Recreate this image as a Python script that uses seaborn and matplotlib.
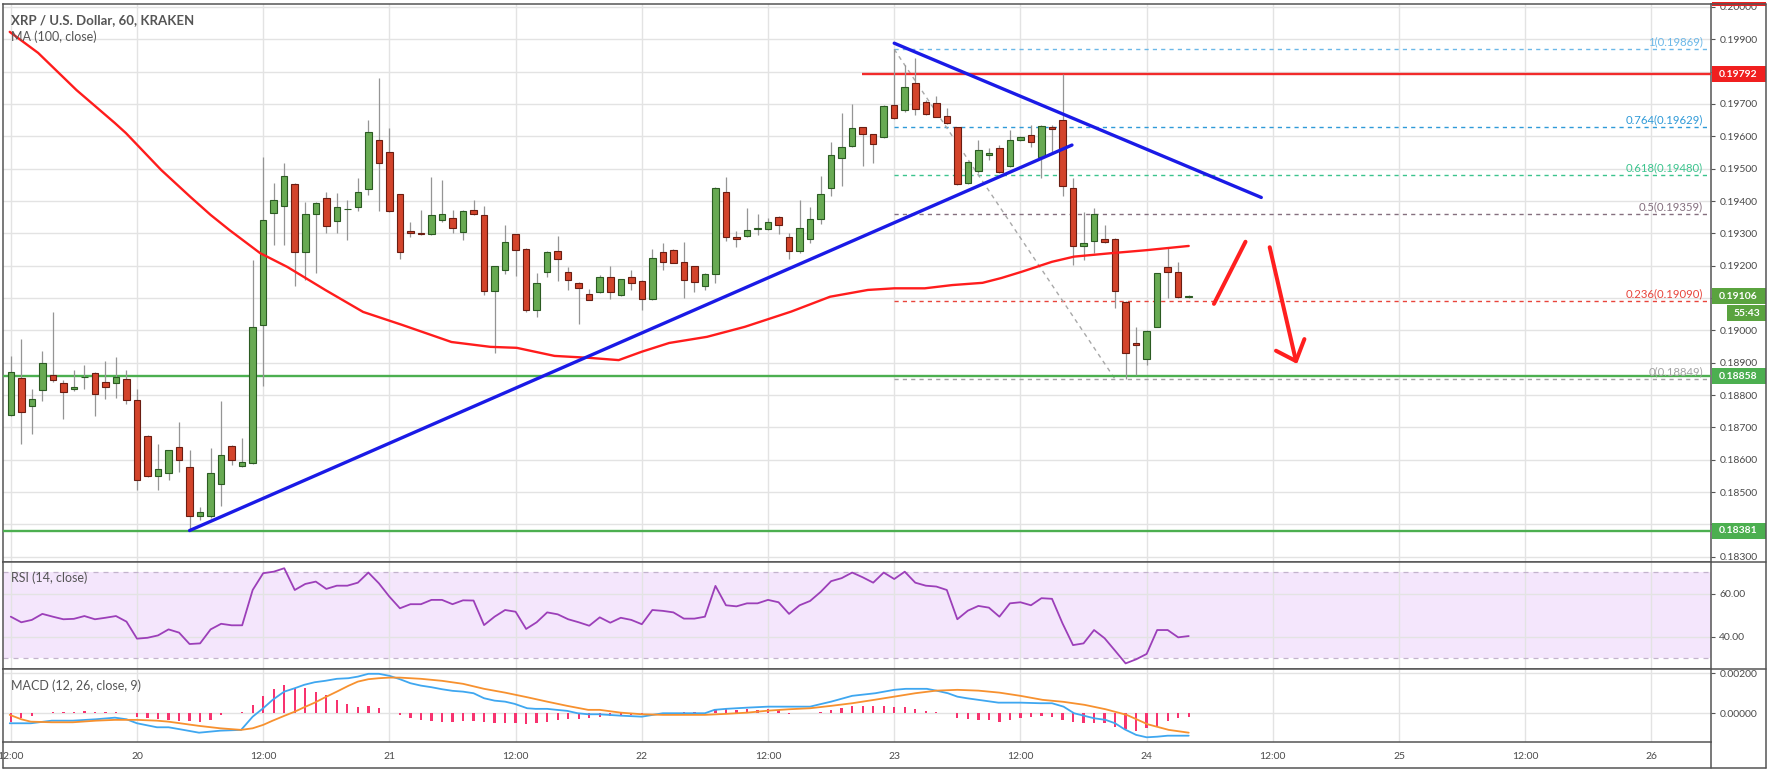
import numpy as np
import pandas as pd
import matplotlib
matplotlib.use("Agg")
import matplotlib.pyplot as plt
from matplotlib.patches import Rectangle
from matplotlib.lines import Line2D
import seaborn as sns

# ---------------- data (hours since 20th 00:00) ----------------
hours = list(range(-12, 101))
opens = [
    0.18737, 0.18853, 0.18766, 0.18817, 0.18863, 0.18837, 0.18820, 0.18855, 0.18867, 0.18840, 0.18837, 0.18850,
    0.18785, 0.18674, 0.18549, 0.18560, 0.18639, 0.18579, 0.18426, 0.18425, 0.18526, 0.18642, 0.18580, 0.18590,
    0.19018, 0.19362, 0.19385, 0.19453, 0.19243, 0.19360, 0.19409, 0.19337, 0.19374, 0.19381, 0.19437, 0.19589,
    0.19553, 0.19421, 0.19307, 0.19302, 0.19299, 0.19340, 0.19348, 0.19304, 0.19373, 0.19356, 0.19122, 0.19188,
    0.19297, 0.19253, 0.19064, 0.19179, 0.19246, 0.19179, 0.19147, 0.19112, 0.19119, 0.19165, 0.19108, 0.19165,
    0.19153, 0.19098, 0.19243, 0.19250, 0.19210, 0.19198, 0.19138, 0.19173, 0.19428, 0.19290, 0.19291, 0.19313,
    0.19312, 0.19351, 0.19290, 0.19246, 0.19282, 0.19343, 0.19440, 0.19532, 0.19570, 0.19628, 0.19606, 0.19597,
    0.19697, 0.19682, 0.19764, 0.19707, 0.19702, 0.19663, 0.19628, 0.19457, 0.19494, 0.19541, 0.19565, 0.19509,
    0.19589, 0.19604, 0.19537, 0.19630, 0.19651, 0.19439, 0.19261, 0.19276, 0.19282, 0.19282, 0.19089, 0.18962,
    0.18911, 0.19011, 0.19195, 0.19179, 0.19102]
highs = [
    0.18922, 0.18973, 0.18819, 0.18937, 0.19056, 0.18845, 0.18876, 0.18894, 0.18870, 0.18905, 0.18917, 0.18878,
    0.18819, 0.18676, 0.18649, 0.18630, 0.18716, 0.18631, 0.18455, 0.18637, 0.18781, 0.18647, 0.18667, 0.19218,
    0.19537, 0.19455, 0.19519, 0.19455, 0.19398, 0.19398, 0.19429, 0.19426, 0.19404, 0.19471, 0.19651, 0.19779,
    0.19625, 0.19423, 0.19335, 0.19373, 0.19474, 0.19466, 0.19373, 0.19373, 0.19402, 0.19384, 0.19199, 0.19325,
    0.19299, 0.19255, 0.19178, 0.19245, 0.19291, 0.19196, 0.19150, 0.19129, 0.19171, 0.19198, 0.19160, 0.19186,
    0.19155, 0.19253, 0.19270, 0.19252, 0.19274, 0.19200, 0.19176, 0.19443, 0.19474, 0.19308, 0.19377, 0.19361,
    0.19346, 0.19353, 0.19300, 0.19403, 0.19380, 0.19476, 0.19584, 0.19671, 0.19700, 0.19630, 0.19608, 0.19696,
    0.19869, 0.19821, 0.19841, 0.19712, 0.19725, 0.19687, 0.19630, 0.19525, 0.19589, 0.19563, 0.19573, 0.19620,
    0.19601, 0.19635, 0.19635, 0.19635, 0.19792, 0.19470, 0.19367, 0.19377, 0.19326, 0.19285, 0.19092, 0.19011,
    0.19001, 0.19178, 0.19254, 0.19212, 0.19108]
lows = [
    0.18735, 0.18649, 0.18680, 0.18783, 0.18840, 0.18727, 0.18814, 0.18819, 0.18734, 0.18788, 0.18791, 0.18773,
    0.18505, 0.18547, 0.18507, 0.18536, 0.18562, 0.18381, 0.18414, 0.18420, 0.18456, 0.18585, 0.18578, 0.18588,
    0.18827, 0.19265, 0.19265, 0.19138, 0.19156, 0.19177, 0.19301, 0.19301, 0.19280, 0.19368, 0.19419, 0.19368,
    0.19365, 0.19222, 0.19289, 0.19294, 0.19294, 0.19335, 0.19301, 0.19279, 0.19356, 0.19109, 0.18930, 0.19174,
    0.19167, 0.19057, 0.19040, 0.19165, 0.19153, 0.19126, 0.19021, 0.19093, 0.19114, 0.19098, 0.19106, 0.19124,
    0.19062, 0.19093, 0.19188, 0.19207, 0.19101, 0.19119, 0.19124, 0.19147, 0.19277, 0.19258, 0.19289, 0.19294,
    0.19310, 0.19299, 0.19220, 0.19238, 0.19270, 0.19330, 0.19414, 0.19445, 0.19568, 0.19509, 0.19517, 0.19594,
    0.19654, 0.19676, 0.19666, 0.19666, 0.19659, 0.19638, 0.19450, 0.19453, 0.19486, 0.19527, 0.19486, 0.19506,
    0.19587, 0.19568, 0.19470, 0.19553, 0.19416, 0.19202, 0.19218, 0.19240, 0.19269, 0.19068, 0.18849, 0.18862,
    0.18893, 0.19009, 0.19099, 0.19100, 0.19100]
closes = [
    0.18871, 0.18749, 0.18788, 0.18898, 0.18847, 0.18809, 0.18825, 0.18856, 0.18802, 0.18826, 0.18855, 0.18785,
    0.18538, 0.18549, 0.18572, 0.18629, 0.18600, 0.18425, 0.18439, 0.18559, 0.18616, 0.18598, 0.18593, 0.19010,
    0.19340, 0.19402, 0.19478, 0.19241, 0.19359, 0.19395, 0.19323, 0.19381, 0.19376, 0.19429, 0.19612, 0.19517,
    0.19370, 0.19243, 0.19302, 0.19299, 0.19356, 0.19361, 0.19318, 0.19368, 0.19359, 0.19122, 0.19199, 0.19274,
    0.19248, 0.19062, 0.19145, 0.19243, 0.19222, 0.19155, 0.19132, 0.19095, 0.19165, 0.19119, 0.19158, 0.19145,
    0.19098, 0.19225, 0.19212, 0.19209, 0.19155, 0.19149, 0.19173, 0.19441, 0.19289, 0.19283, 0.19310, 0.19316,
    0.19335, 0.19325, 0.19246, 0.19316, 0.19343, 0.19421, 0.19541, 0.19568, 0.19625, 0.19606, 0.19577, 0.19694,
    0.19656, 0.19752, 0.19684, 0.19669, 0.19661, 0.19640, 0.19453, 0.19522, 0.19558, 0.19549, 0.19489, 0.19589,
    0.19597, 0.19581, 0.19633, 0.19624, 0.19447, 0.19261, 0.19271, 0.19360, 0.19272, 0.19123, 0.18931, 0.18954,
    0.18999, 0.19176, 0.19179, 0.19102, 0.19106]

ma_hours = [-12.1, -9.4, -5.75, -2.1, -1.05, 2.3, 5.1, 7.0, 8.8, 11.7, 14.3, 17.9, 21.5, 25.2, 29.9, 33.6,
            36.1, 39.7, 43.0, 45.8, 48.0, 50.6, 54.2, 57.8, 62.2, 65.9, 69.5, 72.0, 74.9, 77.5, 80.4, 82.2,
            84.1, 87.0, 89.1, 92.4, 96.0, 100.0]
ma_values = [0.19923, 0.19858, 0.19743, 0.19641, 0.19610, 0.19496, 0.19412, 0.19357, 0.19310, 0.19239,
             0.19196, 0.19125, 0.19057, 0.19017, 0.18964, 0.18949, 0.18946, 0.18921, 0.18915, 0.18908,
             0.18934, 0.18961, 0.18980, 0.19011, 0.19058, 0.19104, 0.19125, 0.19130, 0.19130, 0.19140,
             0.19147, 0.19162, 0.19181, 0.19212, 0.19228, 0.19238, 0.19248, 0.19261]

rsi_values = [
    49.3, 46.7, 47.8, 50.6, 49.3, 48.1, 48.3, 49.6, 48.1, 48.8, 49.6, 47.0,
    39.1, 39.5, 40.6, 43.4, 41.9, 36.6, 36.9, 43.4, 46.0, 45.3, 45.3, 61.7,
    69.5, 70.2, 71.8, 61.7, 64.5, 65.6, 62.2, 63.7, 63.7, 65.1, 69.8, 64.8,
    58.6, 53.2, 55.1, 55.1, 57.1, 57.1, 55.1, 56.9, 56.8, 45.4, 49.3, 52.4,
    51.6, 43.6, 46.7, 51.3, 50.4, 48.1, 46.7, 45.1, 49.0, 46.5, 48.8, 47.8,
    45.8, 52.4, 52.0, 51.3, 48.4, 48.4, 49.3, 63.6, 54.6, 54.1, 55.5, 55.5,
    57.1, 56.0, 50.6, 54.6, 56.6, 60.8, 65.8, 67.2, 69.8, 67.6, 65.1, 69.8,
    66.8, 70.2, 65.1, 63.7, 63.3, 61.7, 48.1, 52.1, 54.3, 53.5, 49.3, 55.5,
    56.0, 54.6, 57.9, 57.6, 46.2, 36.1, 36.9, 43.1, 39.3, 33.5, 27.6, 29.5,
    32.0, 43.1, 43.1, 39.7, 40.3]

macd_hours = [-12.1, -10.1, -8.1, -6.1, -3.9, -2.1, -1.0, 0.0, 1.9, 3.0, 4.1, 5.9, 7.9, 9.9, 11.0, 12.0,
              12.9, 14.0, 15.0, 15.9, 16.9, 17.9, 19.0, 20.1, 21.0, 22.0, 23.0, 24.0, 25.0, 26.0, 27.0,
              28.0, 29.0, 30.0, 31.0, 32.0, 33.0, 34.0, 35.0, 35.9, 37.1, 37.9, 39.0, 39.9, 40.9, 41.9,
              42.9, 43.9, 46.0, 48.0, 50.0, 52.0, 54.0, 54.9, 56.0, 58.0, 60.0, 62.0, 64.0, 65.1, 66.0,
              68.0, 70.2, 72.0, 73.1, 75.1, 76.0, 77.1, 78.0, 78.9, 80.0, 81.9, 84.0, 85.9, 87.0, 88.1,
              89.1, 90.1, 91.0, 92.1, 93.0, 93.9, 95.0, 96.0, 97.0, 98.0, 99.0, 100.0]
macd_values = [-0.0005, -0.0005, -0.00037, -0.00037, -0.0003, -0.00022, -0.0003, -0.0005, -0.0007, -0.0007,
               -0.0008, -0.00097, -0.00087, -0.00083, -0.00017, 0.00025, 0.00067, 0.00108, 0.00125, 0.00142,
               0.00155, 0.00162, 0.00172, 0.00175, 0.00183, 0.00197, 0.00197, 0.00187, 0.0017, 0.0015,
               0.00138, 0.0013, 0.0012, 0.00112, 0.00108, 0.001, 0.00075, 0.00063, 0.00058, 0.00047,
               0.00025, 0.00022, 0.00022, 0.00017, 0.00012, 0.0, -0.00005, -0.00005, -0.00012, -0.00017,
               0.0, 0.0, 0.0, 0.00017, 0.00022, 0.00028, 0.00033, 0.00033, 0.00033, 0.00047,
               0.00058, 0.00087, 0.001, 0.00117, 0.00122, 0.00122, 0.00113, 0.001, 0.00083, 0.00075,
               0.00067, 0.00053, 0.00053, 0.0005, 0.0005, 0.00033, 0.0, -0.00013, -0.00025, -0.00033,
               -0.0005, -0.0008, -0.00108, -0.0012, -0.00117, -0.00112, -0.00112, -0.00112]
signal_hours = [-12.1, -11.0, -10.1, -8.1, -6.1, -3.9, -2.1, 0.0, 1.9, 3.0, 4.1, 5.9, 7.9, 9.9, 11.0, 12.0,
                12.9, 14.0, 15.0, 15.9, 16.9, 17.9, 19.0, 20.1, 21.0, 22.0, 23.0, 24.0, 25.0, 27.0, 29.0,
                31.0, 33.0, 35.0, 37.1, 39.0, 40.9, 42.9, 44.0, 46.0, 48.0, 50.0, 52.0, 54.0, 56.0, 58.0,
                60.0, 62.0, 64.0, 66.0, 68.0, 70.1, 72.0, 74.0, 76.0, 78.0, 80.0, 82.0, 84.0, 86.1, 88.1,
                90.1, 92.1, 94.1, 96.1, 98.1, 100.0]
signal_values = [-0.00008, -0.0003, -0.00042, -0.00045, -0.00045, -0.00037, -0.00033, -0.00033, -0.00037,
                 -0.00042, -0.0005, -0.00063, -0.00075, -0.00083, -0.00075, -0.00058, -0.00037, -0.00013,
                 0.00008, 0.0003, 0.00053, 0.0008, 0.00108, 0.00137, 0.00158, 0.0017, 0.00175, 0.00178,
                 0.00178, 0.00172, 0.00162, 0.00147, 0.00122, 0.00103, 0.0008, 0.00058, 0.00037, 0.00017,
                 0.00017, 0.00003, -0.00005, -0.00008, -0.00008, -0.00008, -0.00003, 0.00003, 0.00013,
                 0.0002, 0.00025, 0.00037, 0.0005, 0.00067, 0.00083, 0.001, 0.00113, 0.00117, 0.00113,
                 0.00103, 0.00087, 0.00067, 0.00057, 0.00042, 0.0002, -0.00008, -0.00055, -0.00083, -0.00097]
hist_values = [
    -0.00042, -0.00025, -0.00013, 0.00003, 0.00008, 0.00008, 0.00005, 0.00013, 0.00005, 0.00005, 0.00005, 0.0,
    -0.00017, -0.00025, -0.0003, -0.00033, -0.00037, -0.00037, -0.00042, -0.00033, -0.00008, 0.00002, 0.00008, 0.00042,
    0.00087, 0.0012, 0.00142, 0.00125, 0.00125, 0.00108, 0.00092, 0.00067, 0.00047, 0.00033, 0.00038, 0.00028,
    0.00003, -0.00008, -0.00022, -0.00033, -0.00037, -0.00042, -0.00042, -0.00037, -0.00037, -0.00042, -0.00047, -0.00047,
    -0.0005, -0.00053, -0.0005, -0.00042, -0.00033, -0.0003, -0.0003, -0.00025, -0.00017, -0.00013, -0.00008, -0.00008,
    -0.00005, 0.0, 0.00003, 0.00003, 0.00005, 0.00005, 0.0, 0.00017, 0.0002, 0.00017, 0.0002, 0.00017,
    0.0002, 0.00017, -0.00005, 0.0, 0.0, 0.00005, 0.00017, 0.00025, 0.00037, 0.00037, 0.00037, 0.00037,
    0.0003, 0.00033, 0.00022, 0.00013, 0.00005, 0.0, -0.00025, -0.0003, -0.00033, -0.00033, -0.00042, -0.00033,
    -0.00025, -0.0002, -0.00013, -0.00017, -0.00033, -0.00042, -0.0005, -0.0005, -0.0005, -0.00067, -0.0008, -0.00088,
    -0.00075, -0.00067, -0.00037, -0.00025, -0.00017]

fib_ratios = ["1", "0.764", "0.618", "0.5", "0.236", "0"]
fib_levels = [0.19869, 0.19629, 0.19480, 0.19359, 0.19090, 0.18849]
fib_colors = ["#6cb8e8", "#2f9ad8", "#3cc48e", "#85707f", "#e8453c", "#a3a3a3"]
fib_start_hour = 72
fib_swing = ([72, 93], [0.19869, 0.18849])

support_levels = [0.18858, 0.18381]
resistance_level = 0.19792
resistance_start = 68.9
rising_trend = ([5.0, 88.9], [0.18381, 0.19573])
falling_trend = ([72.0, 106.9], [0.19888, 0.19411])
arrow_up = ([102.4, 105.4], [0.19082, 0.19274])
arrow_down = ([107.7, 110.2], [0.19257, 0.18905])
arrow_head = ([108.3, 110.2, 111.0], [0.18937, 0.18905, 0.18973])

last_price = 0.19106
countdown = "55:43"
tick_hours = list(range(-12, 145, 12))
tick_labels = ["12:00", "20", "12:00", "21", "12:00", "22", "12:00", "23",
               "12:00", "24", "12:00", "25", "12:00", "26"]
price_ticks = [round(0.183 + 0.001 * i, 3) for i in range(18)]
hidden_price_ticks = [0.184, 0.191, 0.198]   # covered by the coloured price boxes

# ---------------- style ----------------
sns.set_style("white")
plt.rcParams['font.family'] = ['Lato', 'DejaVu Sans']

W, H = 1770, 775
fig = plt.figure(figsize=(W / 100, H / 100), dpi=100)
fig.patch.set_facecolor('white')


def rect(top, bottom, left=3, right=1711):
    return [left / W, 1 - bottom / H, (right - left) / W, (bottom - top) / H]


ax = fig.add_axes(rect(4, 562))
ax_rsi = fig.add_axes(rect(562, 669), sharex=ax)
ax_macd = fig.add_axes(rect(669, 742), sharex=ax)

XMIN, XMAX = -12.74, 149.66

grid_c = '#e3e3e3'
axis_c = '#555555'
text_c = '#4a4a4a'

for a in (ax, ax_rsi, ax_macd):
    a.set_facecolor('white')
    for s in a.spines.values():
        s.set_color(axis_c)
        s.set_linewidth(1.1)
    a.yaxis.tick_right()
    a.tick_params(axis='y', length=3, width=0.8, color=axis_c, pad=3,
                  labelsize=7.5, labelcolor=text_c)
    a.grid(True, color=grid_c, lw=1.0)
    a.set_axisbelow(True)

ax_macd.set_xticks(tick_hours, tick_labels)
ax_macd.tick_params(axis='x', length=3, width=0.8, color=axis_c, pad=4,
                    labelsize=7.5, labelcolor=text_c)
for a in (ax, ax_rsi):
    a.tick_params(axis='x', length=0, labelbottom=False)

ax.set_yticks(price_ticks, ["" if v in hidden_price_ticks else f"{v:.5f}" for v in price_ticks])
ax_rsi.set_yticks([40, 60], ["40.00", "60.00"])
ax_macd.set_yticks([0.0, 0.002], ["0.00000", "0.00200"])

# ---------------- main panel ----------------
df = pd.DataFrame(dict(hour=hours, open=opens, high=highs, low=lows, close=closes))
df['up'] = df['close'] >= df['open']
body = (df['close'] - df['open']).abs().clip(lower=0.00002)
bottom = df[['open', 'close']].min(axis=1)

ax.vlines(df['hour'], df['low'], df['high'], color='#959595', lw=0.9, zorder=3)
for up, fc, ec in [(True, '#68aa53', '#2b5b22'), (False, '#d3442b', '#6a1d12')]:
    m = df['up'] == up
    ax.bar(df['hour'][m], body[m], bottom=bottom[m], width=0.62, color=fc,
           edgecolor=ec, linewidth=0.8, zorder=4)

# fib retracement
for r, lv, c in zip(fib_ratios, fib_levels, fib_colors):
    ax.hlines(lv, fib_start_hour, XMAX, colors=c, linestyles=(0, (3, 3)), lw=1.0, zorder=2.5)
    ax.annotate(f"{r}({lv:.5f})", xy=(148.9, lv), xytext=(0, 1.2), textcoords='offset points',
                ha='right', va='bottom', fontsize=8.2, color=c, zorder=6)
ax.plot(*fib_swing, color='#a8a8a8', lw=1.0, ls=(0, (3, 3)), zorder=2.6)

# horizontal levels
for lv in support_levels:
    ax.axhline(lv, color='#4caf50', lw=1.7, zorder=2.7)
ax.hlines(resistance_level, resistance_start, XMAX, colors='#f22b2b', lw=1.7, zorder=2.7)

# moving average
sns.lineplot(x=ma_hours, y=ma_values, ax=ax, color='#ff1c1c', lw=1.7, estimator=None, zorder=5)

# trend lines
ax.plot(*rising_trend, color='#1a1ae6', lw=2.4, solid_capstyle='round', zorder=6)
ax.plot(*falling_trend, color='#1a1ae6', lw=2.4, solid_capstyle='round', zorder=6)

# hand-drawn arrows
for seg in (arrow_up, arrow_down, arrow_head):
    ax.plot(*seg, color='#ff1f1f', lw=2.9, solid_capstyle='round', solid_joinstyle='round', zorder=7)

# ---------------- RSI panel ----------------
ax_rsi.axhspan(30, 70, color='#f4e6fc', zorder=0.2, lw=0)
for lv in (30, 70):
    ax_rsi.axhline(lv, color='#c3b3cc', lw=0.9, ls=(0, (4, 4)), zorder=1)
sns.lineplot(x=hours, y=rsi_values, ax=ax_rsi, color='#9c3fb9', lw=1.3, estimator=None, zorder=4)

# ---------------- MACD panel ----------------
ax_macd.bar(hours, hist_values, width=0.22, color='#f7336f', zorder=3, lw=0)
sns.lineplot(x=macd_hours, y=macd_values, ax=ax_macd, color='#3fa7f0', lw=1.3, estimator=None, zorder=4)
sns.lineplot(x=signal_hours, y=signal_values, ax=ax_macd, color='#f7912f', lw=1.3, estimator=None, zorder=5)

for a in (ax, ax_rsi, ax_macd):
    a.set_xlim(XMIN, XMAX)
    a.set_xlabel('')
    a.set_ylabel('')
ax.set_ylim(0.182837, 0.200092)
ax_rsi.set_ylim(25.0, 74.7)
ax_macd.set_ylim(-0.001435, 0.00221)

# ---------------- titles ----------------
fig.text(11 / W, 1 - 20 / H, "XRP / U.S. Dollar, 60, KRAKEN", fontsize=9.5, color='#555555',
         va='center', ha='left', fontweight='bold')
fig.text(11 / W, 1 - 36.5 / H, "MA (100, close)", fontsize=9, color='#555555', va='center', ha='left')
fig.text(11 / W, 1 - 578 / H, "RSI (14, close)", fontsize=9, color='#555555', va='center', ha='left')
fig.text(11 / W, 1 - 686 / H, "MACD (12, 26, close, 9)", fontsize=9, color='#555555', va='center', ha='left')


# ---------------- price-axis boxes ----------------
def y_px(a, val):
    return a.transData.transform((0, val))[1]


def price_box(yc, txt, fc, x0=1712, x1=1766, h=16, tx=1719, ha='left'):
    fig.add_artist(Rectangle((x0 / W, (yc - h / 2) / H), (x1 - x0) / W, h / H,
                             transform=fig.transFigure, facecolor=fc, edgecolor='none', zorder=10))
    fig.text(tx / W, yc / H, txt, ha=ha, va='center', color='white', fontsize=7.5,
             fontweight='bold', zorder=11)


price_box(y_px(ax, resistance_level), f"{resistance_level:.5f}", '#f01f1f')
price_box(y_px(ax, last_price), f"{last_price:.5f}", '#5aa33f')
price_box(y_px(ax, last_price) - 17, countdown, '#5aa33f', x0=1727, tx=1746.5, ha='center')
for lv in support_levels:
    price_box(y_px(ax, lv), f"{lv:.5f}", '#4caf50')

# partially hidden label at the very top
fig.add_artist(Rectangle((1712 / W, 1 - 6 / H), 54 / W, 3.5 / H, transform=fig.transFigure,
                         facecolor='#f01f1f', edgecolor='none', zorder=10))


# ---------------- frame ----------------
def line_px(xs, ys):
    fig.add_artist(Line2D([x / W for x in xs], [1 - y / H for y in ys], transform=fig.transFigure,
                          color=axis_c, lw=1.1, zorder=12))


line_px([1711, 1766], [4, 4])
line_px([1766, 1766], [4, 768])
line_px([3, 1766], [768, 768])
line_px([3, 3], [742, 768])
line_px([1711, 1711], [742, 768])
line_px([1711, 1766], [562, 562])
line_px([1711, 1766], [669, 669])

fig.savefig("out.png", dpi=100, facecolor='white')
